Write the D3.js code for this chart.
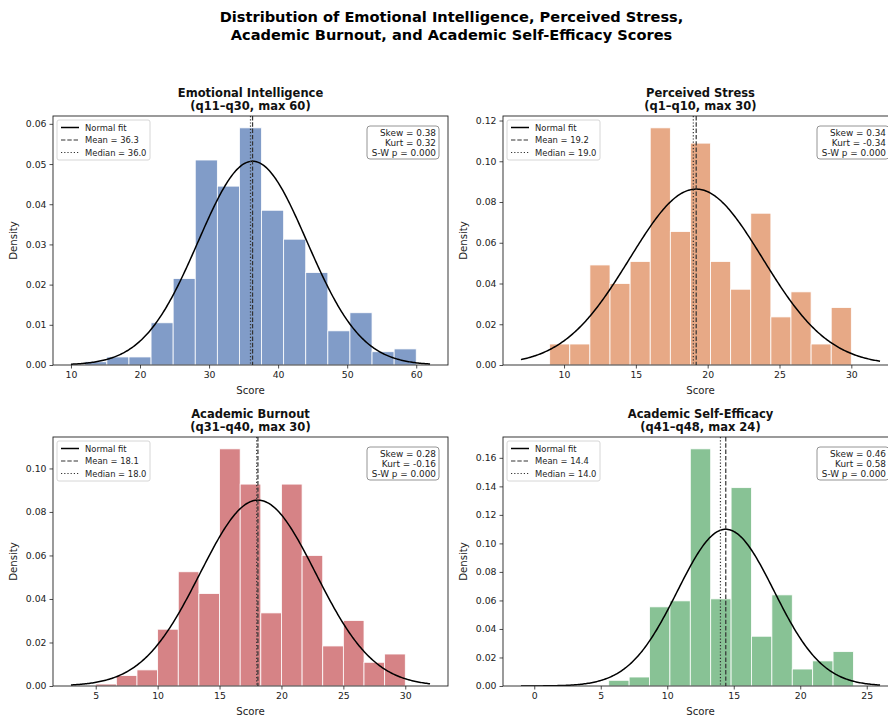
<!DOCTYPE html>
<html><head><meta charset="utf-8">
<script src="https://cdn.jsdelivr.net/npm/d3@7"></script>
<style>body{margin:0;background:#fff}svg{display:block;font-family:"DejaVu Sans",sans-serif}</style>
</head><body><svg id="c" width="888" height="717"></svg>
<script>
// ---- data ----
const titles = ["Emotional Intelligence", "Perceived Stress", "Academic Burnout", "Academic Self-Efficacy"];
const subtitles = ["(q11–q30, max 60)", "(q1–q10, max 30)", "(q31–q40, max 30)", "(q41–q48, max 24)"];
const binRanges = [[12, 60], [9, 30], [5, 30], [1, 24]];
const eiDensity = [0.0008, 0.002, 0.002, 0.0105, 0.0215, 0.051, 0.0445, 0.059, 0.0385, 0.0313, 0.023, 0.0085, 0.013, 0.0033, 0.004];
const psDensity = [0.0103, 0.0103, 0.0491, 0.040, 0.0508, 0.1164, 0.0655, 0.1089, 0.0508, 0.0372, 0.0745, 0.0236, 0.0359, 0.0103, 0.0282];
const abDensity = [0.0009, 0.0048, 0.0074, 0.0261, 0.0525, 0.0425, 0.109, 0.0928, 0.0336, 0.0928, 0.060, 0.0184, 0.0301, 0.0109, 0.0147];
const aseDensity = [0.0006, 0.0006, 0.0006, 0.004, 0.0063, 0.0555, 0.0597, 0.1663, 0.0611, 0.1391, 0.0349, 0.0639, 0.0119, 0.0176, 0.0241];
const densities = [eiDensity, psDensity, abDensity, aseDensity];
const means = [36.3, 19.2, 18.1, 14.4];
const medians = [36.0, 19.0, 18.0, 14.0];
const sds = [7.87, 4.62, 4.67, 3.63];
const fitRanges = [[10, 62], [7, 32], [3, 32], [-1, 26]];
const skews = ["0.38", "0.34", "0.28", "0.46"];
const kurts = ["0.32", "-0.34", "-0.16", "0.58"];
const swp = ["0.000", "0.000", "0.000", "0.000"];
const xTicks = [[10, 20, 30, 40, 50, 60], [10, 15, 20, 25, 30], [5, 10, 15, 20, 25, 30], [0, 5, 10, 15, 20, 25]];
const yTicks = [[0, 0.01, 0.02, 0.03, 0.04, 0.05, 0.06], [0, 0.02, 0.04, 0.06, 0.08, 0.10, 0.12], [0, 0.02, 0.04, 0.06, 0.08, 0.10], [0, 0.02, 0.04, 0.06, 0.08, 0.10, 0.12, 0.14, 0.16]];
const colors = ["#4C72B0", "#DD8452", "#C44E52", "#55A868"];

// ---- layout ----
const svg = d3.select("#c");
const boxes = [
  {x0: 53, x1: 448, y0: 116, y1: 365},
  {x0: 503, x1: 898, y0: 116, y1: 365},
  {x0: 53, x1: 448, y0: 437, y1: 686},
  {x0: 503, x1: 898, y0: 437, y1: 686}
];
const figCx = 451.5;
svg.append("text").attr("x", figCx).attr("y", 22).attr("text-anchor", "middle")
  .attr("font-size", 14.6).attr("font-weight", "bold").text("Distribution of Emotional Intelligence, Perceived Stress,");
svg.append("text").attr("x", figCx).attr("y", 39.5).attr("text-anchor", "middle")
  .attr("font-size", 14.6).attr("font-weight", "bold").text("Academic Burnout, and Academic Self-Efficacy Scores");

const pdf = (x, m, s) => Math.exp(-0.5 * ((x - m) / s) ** 2) / (s * Math.sqrt(2 * Math.PI));

boxes.forEach((b, i) => {
  const dens = densities[i];
  const [lo, hi] = binRanges[i];
  const n = dens.length;
  const w = (hi - lo) / n;
  const [f0, f1] = fitRanges[i];
  const xmin = Math.min(lo, f0), xmax = Math.max(hi, f1);
  const pad = (xmax - xmin) * 0.05;
  const x = d3.scaleLinear().domain([xmin - pad, xmax + pad]).range([b.x0, b.x1]);
  const ymax = Math.max(d3.max(dens), pdf(means[i], means[i], sds[i])) * 1.05;
  const y = d3.scaleLinear().domain([0, ymax]).range([b.y1, b.y0]);
  const g = svg.append("g");
  const clipId = "clip" + i;
  svg.append("clipPath").attr("id", clipId).append("rect")
    .attr("x", b.x0).attr("y", b.y0).attr("width", b.x1 - b.x0).attr("height", b.y1 - b.y0);
  const pg = g.append("g").attr("clip-path", `url(#${clipId})`);

  // bars
  pg.selectAll("rect.bar").data(dens).join("rect").attr("class", "bar")
    .attr("x", (d, k) => x(lo + k * w))
    .attr("width", (d, k) => x(lo + (k + 1) * w) - x(lo + k * w))
    .attr("y", d => y(d)).attr("height", d => y(0) - y(d))
    .attr("fill", colors[i]).attr("fill-opacity", 0.7)
    .attr("stroke", "#fff").attr("stroke-width", 0.8);

  // normal fit
  const pts = d3.range(0, 301).map(k => f0 + (f1 - f0) * k / 300);
  pg.append("path").datum(pts)
    .attr("d", d3.line().x(v => x(v)).y(v => y(pdf(v, means[i], sds[i]))))
    .attr("fill", "none").attr("stroke", "#000").attr("stroke-width", 1.5);

  // mean & median
  pg.append("line").attr("x1", x(means[i])).attr("x2", x(means[i])).attr("y1", b.y0).attr("y2", b.y1)
    .attr("stroke", "#333").attr("stroke-width", 1.2).attr("stroke-dasharray", "4.4,1.9");
  pg.append("line").attr("x1", x(medians[i])).attr("x2", x(medians[i])).attr("y1", b.y0).attr("y2", b.y1)
    .attr("stroke", "#333").attr("stroke-width", 1.2).attr("stroke-dasharray", "1.2,2");

  // axes
  const xa = g.append("g").attr("transform", `translate(0,${b.y1})`)
    .call(d3.axisBottom(x).tickValues(xTicks[i]).tickSize(3.5).tickPadding(3).tickFormat(d3.format("d")));
  const ya = g.append("g").attr("transform", `translate(${b.x0},0)`)
    .call(d3.axisLeft(y).tickValues(yTicks[i]).tickSize(3.5).tickPadding(3).tickFormat(d3.format(".2f")));
  [xa, ya].forEach(a => {
    a.select(".domain").remove();
    a.selectAll("text").attr("font-size", 9.3).attr("fill", "#222").attr("font-family", "DejaVu Sans");
    a.selectAll("line").attr("stroke", "#222").attr("stroke-width", 0.8);
  });
  g.append("rect").attr("x", b.x0).attr("y", b.y0).attr("width", b.x1 - b.x0).attr("height", b.y1 - b.y0)
    .attr("fill", "none").attr("stroke", "#222").attr("stroke-width", 0.9);

  // labels
  const cx = (b.x0 + b.x1) / 2;
  g.append("text").attr("x", cx).attr("y", b.y1 + 29).attr("text-anchor", "middle")
    .attr("font-size", 10.2).attr("fill", "#222").text("Score");
  g.append("text").attr("transform", `translate(${b.x0 - 36},${(b.y0 + b.y1) / 2}) rotate(-90)`)
    .attr("text-anchor", "middle").attr("font-size", 10.2).attr("fill", "#222").text("Density");
  g.append("text").attr("x", cx).attr("y", b.y0 - 19).attr("text-anchor", "middle")
    .attr("font-size", 11.5).attr("font-weight", "bold").attr("fill", "#111").text(titles[i]);
  g.append("text").attr("x", cx).attr("y", b.y0 - 6).attr("text-anchor", "middle")
    .attr("font-size", 11.5).attr("font-weight", "bold").attr("fill", "#111").text(subtitles[i]);

  // legend
  const lg = g.append("g").attr("transform", `translate(${b.x0 + 4},${b.y0 + 4})`);
  lg.append("rect").attr("width", 93).attr("height", 40).attr("rx", 2)
    .attr("fill", "#fff").attr("fill-opacity", 0.8).attr("stroke", "#ccc").attr("stroke-width", 0.8);
  const items = [
    {t: "Normal fit", dash: null, lw: 1.5, c: "#000"},
    {t: "Mean = " + means[i].toFixed(1), dash: "4.4,1.9", lw: 1.2, c: "#333"},
    {t: "Median = " + medians[i].toFixed(1), dash: "1.2,2", lw: 1.2, c: "#333"}
  ];
  items.forEach((it, k) => {
    const yy = 7.5 + k * 12.5;
    lg.append("line").attr("x1", 4).attr("x2", 22).attr("y1", yy).attr("y2", yy)
      .attr("stroke", it.c).attr("stroke-width", it.lw).attr("stroke-dasharray", it.dash);
    lg.append("text").attr("x", 28).attr("y", yy + 3.2).attr("font-size", 8.4).attr("fill", "#222").text(it.t);
  });

  // stats box
  const sw = 72, sh = 33;
  const sx = b.x1 - 9 - sw, sy = b.y0 + 10;
  g.append("rect").attr("x", sx).attr("y", sy).attr("width", sw).attr("height", sh).attr("rx", 3)
    .attr("fill", "#fff").attr("fill-opacity", 0.85).attr("stroke", "#888").attr("stroke-width", 0.9);
  ["Skew = " + skews[i], "Kurt = " + kurts[i], "S-W p = " + swp[i]].forEach((t, k) => {
    g.append("text").attr("x", sx + sw - 3).attr("y", sy + 10 + k * 10).attr("text-anchor", "end")
      .attr("font-size", 8.9).attr("fill", "#222").text(t);
  });
});
</script></body></html>
